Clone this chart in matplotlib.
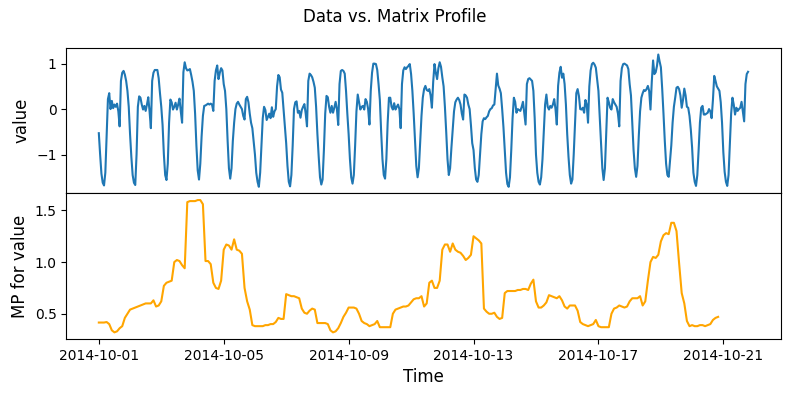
import matplotlib
matplotlib.use("Agg")
import matplotlib.pyplot as plt
import matplotlib.dates as mdates
import numpy as np
import pandas as pd

# hourly values, one list per day (Oct 1 - Oct 21, 2014)
day_01 = [-0.53, -1.00, -1.42, -1.62, -1.68, -1.40, -0.60, 0.22, 0.35, 0.00, 0.18, 0.02,
          0.10, 0.05, 0.12, -0.05, -0.38, 0.62, 0.80, 0.84, 0.76, 0.62, 0.40, 0.05]
day_02 = [-0.55, -1.05, -1.45, -1.62, -1.67, -1.00, 0.05, 0.28, 0.25, 0.10, -0.01, 0.07,
          -0.04, 0.10, 0.26, -0.05, -0.42, 0.62, 0.80, 0.86, 0.86, 0.86, 0.68, 0.35]
day_03 = [0.05, -0.35, -1.00, -1.45, -1.56, -1.20, -0.30, 0.21, 0.15, -0.01, 0.05, 0.14,
          -0.01, 0.10, 0.23, -0.05, -0.30, 0.81, 1.03, 0.90, 0.85, 0.86, 0.88, 0.75]
day_04 = [0.60, 0.40, -0.10, -0.80, -1.35, -1.55, -1.20, -0.60, -0.15, 0.07, 0.08, 0.10,
          0.12, 0.10, 0.12, 0.10, -0.04, 0.62, 0.85, 0.96, 0.66, 0.80, 0.90, 0.85]
day_05 = [0.55, 0.40, 0.00, -0.70, -1.30, -1.53, -1.30, -0.70, -0.30, 0.00, 0.12, 0.16,
          0.10, 0.05, 0.00, -0.15, -0.23, 0.22, 0.27, 0.15, -0.10, -0.30, -0.42, -0.70]
day_06 = [-1.00, -1.40, -1.60, -1.71, -1.40, -0.80, -0.20, 0.05, -0.02, -0.24, -0.17, -0.10,
          -0.20, 0.04, -0.17, -0.05, 0.00, 0.50, 0.75, 0.70, 0.43, 0.36, 0.00, -0.35]
day_07 = [-0.75, -1.25, -1.60, -1.70, -1.45, -0.80, 0.00, 0.15, 0.17, -0.08, -0.04, -0.19,
          -0.02, 0.05, 0.11, -0.10, -0.38, 0.62, 0.78, 0.75, 0.70, 0.60, 0.47, 0.05]
day_08 = [-0.55, -1.05, -1.50, -1.66, -1.55, -0.90, -0.10, 0.29, 0.26, 0.05, -0.08, 0.07,
          -0.08, 0.03, 0.16, 0.00, -0.35, 0.55, 0.84, 0.86, 0.84, 0.78, 0.40, -0.10]
day_09 = [-0.55, -1.10, -1.50, -1.64, -1.45, -0.80, -0.05, 0.32, 0.16, -0.01, 0.05, 0.07,
          -0.01, 0.22, 0.16, 0.00, -0.34, 0.40, 0.80, 1.00, 1.00, 0.99, 0.86, 0.55]
day_10 = [0.20, -0.50, -1.10, -1.45, -1.53, -1.10, -0.30, 0.25, 0.25, 0.05, -0.01, 0.13,
          -0.01, 0.05, 0.10, 0.00, -0.42, 0.55, 0.85, 0.92, 0.88, 0.92, 0.95, 0.99]
day_11 = [0.77, 0.40, -0.10, -0.70, -1.25, -1.50, -1.30, -0.70, -0.15, 0.25, 0.44, 0.51,
          0.42, 0.40, 0.44, 0.30, 0.03, 0.60, 0.99, 0.80, 0.66, 0.90, 1.03, 0.93]
day_12 = [0.70, 0.50, 0.05, -0.50, -1.10, -1.45, -1.30, -0.85, -0.45, -0.05, 0.15, 0.21,
          0.25, 0.20, 0.10, -0.10, -0.23, 0.32, 0.30, 0.25, 0.10, 0.00, -0.35, -0.75]
day_13 = [-0.90, -1.30, -1.55, -1.60, -1.45, -1.00, -0.55, -0.27, -0.20, -0.22, -0.18, -0.15,
          -0.05, 0.00, 0.02, 0.08, 0.10, 0.45, 0.78, 0.52, 0.45, 0.35, 0.00, -0.40]
day_14 = [-0.90, -1.40, -1.65, -1.71, -1.50, -0.90, -0.20, 0.25, 0.16, -0.08, 0.00, -0.02,
          -0.04, 0.05, 0.16, -0.10, -0.34, 0.55, 0.66, 0.68, 0.65, 0.62, 0.40, -0.20]
day_15 = [-1.00, -1.40, -1.60, -1.66, -1.50, -1.10, -0.50, 0.10, 0.32, 0.05, -0.01, 0.07,
          0.03, 0.10, 0.22, 0.00, -0.34, 0.51, 0.80, 0.93, 0.69, 0.78, 0.55, 0.10]
day_16 = [-0.55, -1.05, -1.45, -1.64, -1.55, -1.00, -0.30, 0.35, 0.44, 0.29, 0.00, -0.01,
          0.03, -0.08, 0.20, 0.10, -0.30, 0.50, 0.85, 0.99, 1.02, 0.98, 0.91, 0.65]
day_17 = [0.40, -0.20, -0.75, -1.30, -1.56, -1.30, -0.50, 0.25, 0.15, 0.03, -0.01, 0.22,
          0.15, 0.10, 0.05, -0.10, -0.38, 0.62, 0.90, 0.99, 1.00, 0.98, 0.96, 0.88]
day_18 = [0.55, 0.30, -0.30, -0.90, -1.30, -1.49, -1.25, -0.60, -0.05, 0.25, 0.35, 0.42,
          0.40, 0.44, 0.51, 0.40, -0.01, 0.60, 1.07, 0.77, 0.81, 0.95, 1.20, 1.05]
day_19 = [0.92, 0.45, -0.10, -0.70, -1.20, -1.45, -1.49, -1.15, -0.80, -0.30, 0.05, 0.25,
          0.47, 0.49, 0.44, 0.30, 0.03, 0.20, 0.45, 0.30, 0.05, 0.03, -0.15, -0.45]
day_20 = [-0.85, -1.40, -1.60, -1.69, -1.45, -0.90, -0.30, 0.03, 0.07, -0.12, -0.12, -0.10,
          -0.08, 0.00, -0.05, -0.20, 0.20, 0.73, 0.62, 0.50, 0.45, 0.40, 0.15, -0.30]
day_21 = [-0.95, -1.38, -1.60, -1.69, -1.45, -0.80, -0.10, 0.25, 0.10, -0.12, 0.03, -0.04,
          0.00, 0.03, 0.16, -0.05, -0.27, 0.55, 0.77, 0.82]

value = (day_01 + day_02 + day_03 + day_04 + day_05 + day_06 + day_07 + day_08 + day_09
         + day_10 + day_11 + day_12 + day_13 + day_14 + day_15 + day_16 + day_17 + day_18
         + day_19 + day_20 + day_21)

# matrix profile (window = 24 h), sampled every 2 hours
mp_values = [
    0.415, 0.415, 0.415, 0.42, 0.40, 0.34, 0.32, 0.33, 0.36, 0.38, 0.46, 0.50,
    0.54, 0.55, 0.56, 0.57, 0.58, 0.59, 0.60, 0.60, 0.60, 0.63, 0.57, 0.58,
    0.62, 0.77, 0.80, 0.81, 0.82, 1.00, 1.02, 1.01, 0.97, 0.94, 1.58, 1.59,
    1.59, 1.59, 1.60, 1.60, 1.56, 1.01, 1.01, 0.98, 0.80, 0.75, 0.74, 0.82,
    1.12, 1.17, 1.16, 1.12, 1.22, 1.12, 1.11, 1.08, 0.75, 0.62, 0.54, 0.39,
    0.38, 0.38, 0.38, 0.38, 0.39, 0.39, 0.40, 0.40, 0.42, 0.46, 0.45, 0.45,
    0.69, 0.68, 0.67, 0.67, 0.66, 0.65, 0.55, 0.51, 0.50, 0.53, 0.55, 0.54,
    0.41, 0.41, 0.41, 0.41, 0.40, 0.34, 0.32, 0.33, 0.36, 0.41, 0.47, 0.51,
    0.56, 0.56, 0.56, 0.55, 0.50, 0.43, 0.41, 0.40, 0.38, 0.39, 0.40, 0.43,
    0.37, 0.37, 0.37, 0.37, 0.37, 0.50, 0.54, 0.55, 0.56, 0.57, 0.57, 0.58,
    0.61, 0.64, 0.65, 0.65, 0.67, 0.57, 0.60, 0.80, 0.82, 0.75, 0.75, 0.82,
    1.12, 1.17, 1.17, 1.10, 1.18, 1.12, 1.10, 1.09, 1.06, 1.02, 1.04, 1.07,
    1.25, 1.23, 1.21, 1.18, 0.55, 0.52, 0.50, 0.50, 0.51, 0.47, 0.45, 0.46,
    0.70, 0.72, 0.72, 0.72, 0.72, 0.73, 0.73, 0.74, 0.74, 0.73, 0.79, 0.83,
    0.62, 0.56, 0.56, 0.58, 0.61, 0.68, 0.67, 0.66, 0.65, 0.67, 0.63, 0.57,
    0.55, 0.58, 0.58, 0.58, 0.53, 0.42, 0.40, 0.39, 0.38, 0.39, 0.40, 0.44,
    0.38, 0.37, 0.37, 0.37, 0.37, 0.50, 0.55, 0.56, 0.58, 0.57, 0.56, 0.57,
    0.62, 0.65, 0.65, 0.65, 0.67, 0.58, 0.62, 0.82, 1.00, 1.05, 1.04, 1.07,
    1.20, 1.26, 1.28, 1.27, 1.38, 1.38, 1.30, 0.99, 0.70, 0.60, 0.43, 0.38,
    0.39, 0.38, 0.38, 0.39, 0.39, 0.38, 0.39, 0.40, 0.44, 0.46, 0.47,
]

start = "2014-10-01"
value_time = pd.date_range(start, periods=len(value), freq="h")
mp_time = pd.date_range(start, periods=len(mp_values), freq="2h")

fig, axs = plt.subplots(2, 1, sharex=True, figsize=(7.9, 3.96), dpi=100,
                        gridspec_kw={"hspace": 0})
plt.suptitle("Data vs. Matrix Profile")

axs[0].plot(value_time, value)
axs[0].set_ylabel("value", fontsize=12)

axs[1].plot(mp_time, mp_values, color="orange")
axs[1].set_ylabel("MP for value", fontsize=12)
axs[1].set_xlabel("Time", fontsize=12)

axs[1].xaxis.set_major_locator(mdates.DayLocator(interval=4))
axs[1].xaxis.set_major_formatter(mdates.DateFormatter("%Y-%m-%d"))

fig.subplots_adjust(left=0.084, right=0.988, top=0.879, bottom=0.144)
fig.savefig("out.png")
